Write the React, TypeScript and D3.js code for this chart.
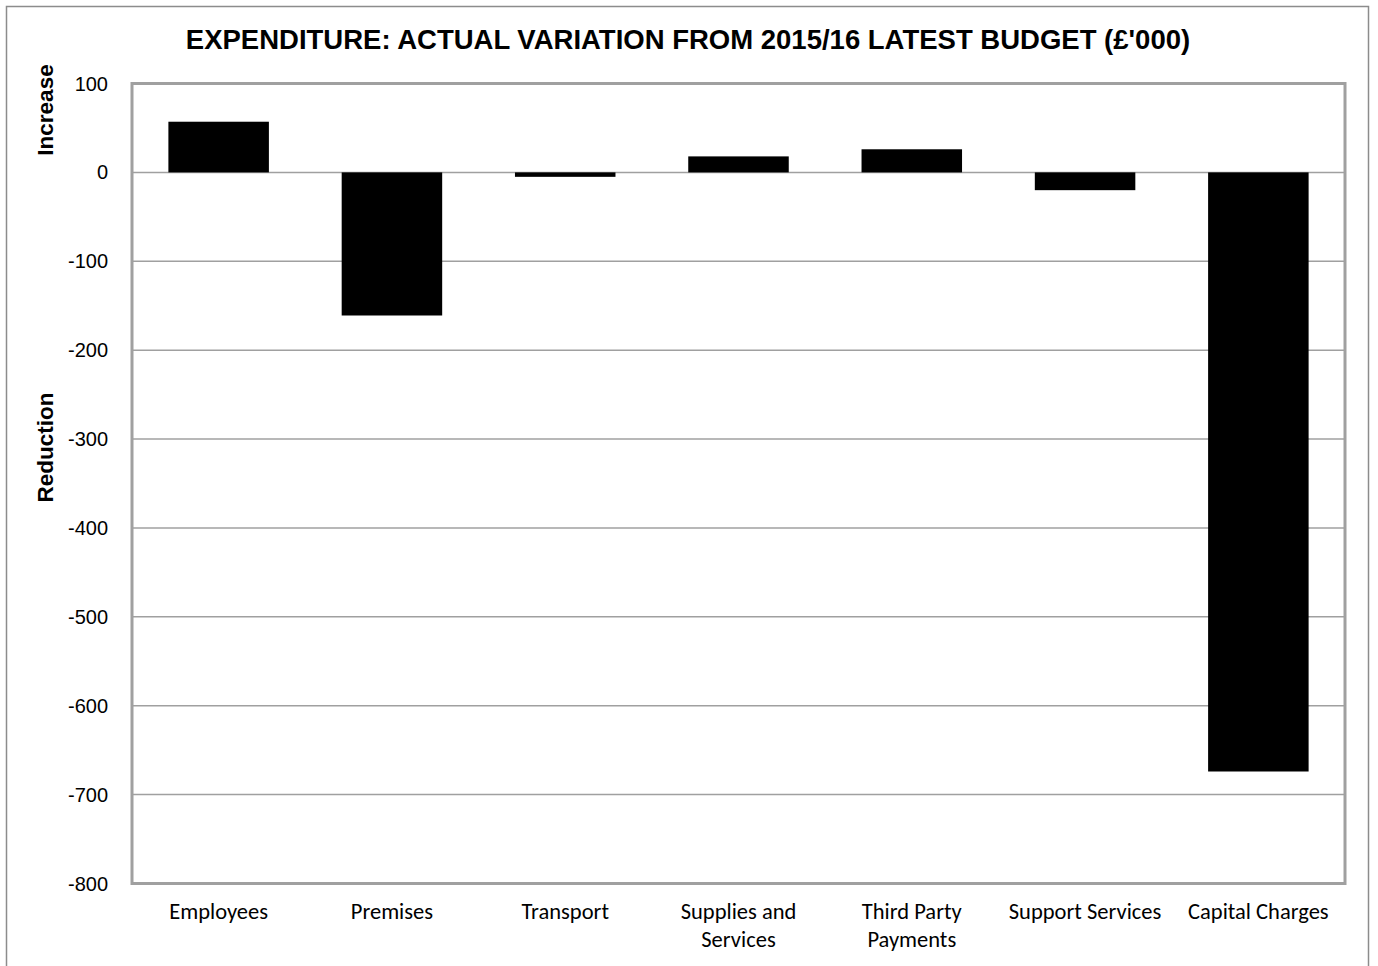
import React from "react";
import * as d3 from "d3";

const categories: string[][] = [
  ["Employees"],
  ["Premises"],
  ["Transport"],
  ["Supplies and", "Services"],
  ["Third Party", "Payments"],
  ["Support Services"],
  ["Capital Charges"],
];
const values: number[] = [57, -161, -5, 18, 26, -20, -674];
const yTicks: number[] = [100, 0, -100, -200, -300, -400, -500, -600, -700, -800];
const title = "EXPENDITURE: ACTUAL VARIATION FROM 2015/16 LATEST BUDGET (£'000)";

const W = 1378;
const H = 966;
const plot = { left: 132, right: 1345, top: 83.5, bottom: 883.5 };

export default function App() {
  const keys = categories.map((c) => c.join(" "));
  const x = d3.scaleBand<string>().domain(keys).range([plot.left, plot.right]).paddingInner(0.42).paddingOuter(0.21);
  const y = d3.scaleLinear().domain([-800, 100]).range([plot.bottom, plot.top]);
  const sans = "'Liberation Sans', Arial, sans-serif";
  const cal = "Carlito, Calibri, Lato, sans-serif";
  return (
    <svg width={W} height={H} style={{ position: "absolute", left: 0, top: 0 }}>
      <rect x={0} y={0} width={W} height={H} fill="#fff" />
      <rect x={6.5} y={6.5} width={1362} height={H + 20} fill="none" stroke="#8c8c8c" strokeWidth={1.5} />
      <text x={688} y={49} textAnchor="middle" fontFamily={sans} fontWeight="bold" fontSize={27.5} fill="#000">
        {title}
      </text>
      {yTicks.map((t) => (
        <line key={"g" + t} x1={plot.left} x2={plot.right} y1={y(t)} y2={y(t)} stroke="#a0a0a0" strokeWidth={1.5} />
      ))}
      {yTicks.map((t) => (
        <text key={"t" + t} x={108} y={y(t) + 7} textAnchor="end" fontFamily={sans} fontSize={20} fill="#000">
          {t}
        </text>
      ))}
      {values.map((v, i) => (
        <rect
          key={keys[i]}
          x={x(keys[i])}
          width={x.bandwidth()}
          y={Math.min(y(v), y(0))}
          height={Math.abs(y(v) - y(0))}
          fill="#000"
        />
      ))}
      <rect
        x={plot.left}
        y={plot.top}
        width={plot.right - plot.left}
        height={plot.bottom - plot.top}
        fill="none"
        stroke="#a0a0a0"
        strokeWidth={3}
      />
      {categories.map((lines, i) => (
        <text key={"c" + i} textAnchor="middle" fontFamily={cal} fontSize={22.5} fill="#000">
          {lines.map((l, j) => (
            <tspan key={j} x={(x(keys[i]) as number) + x.bandwidth() / 2} y={919 + j * 28}>
              {l}
            </tspan>
          ))}
        </text>
      ))}
      <text transform={`translate(53,110) rotate(-90)`} textAnchor="middle" fontFamily={sans} fontWeight="bold" fontSize={22.5} fill="#000">
        Increase
      </text>
      <text transform={`translate(53,447.5) rotate(-90)`} textAnchor="middle" fontFamily={sans} fontWeight="bold" fontSize={22.5} fill="#000">
        Reduction
      </text>
    </svg>
  );
}
